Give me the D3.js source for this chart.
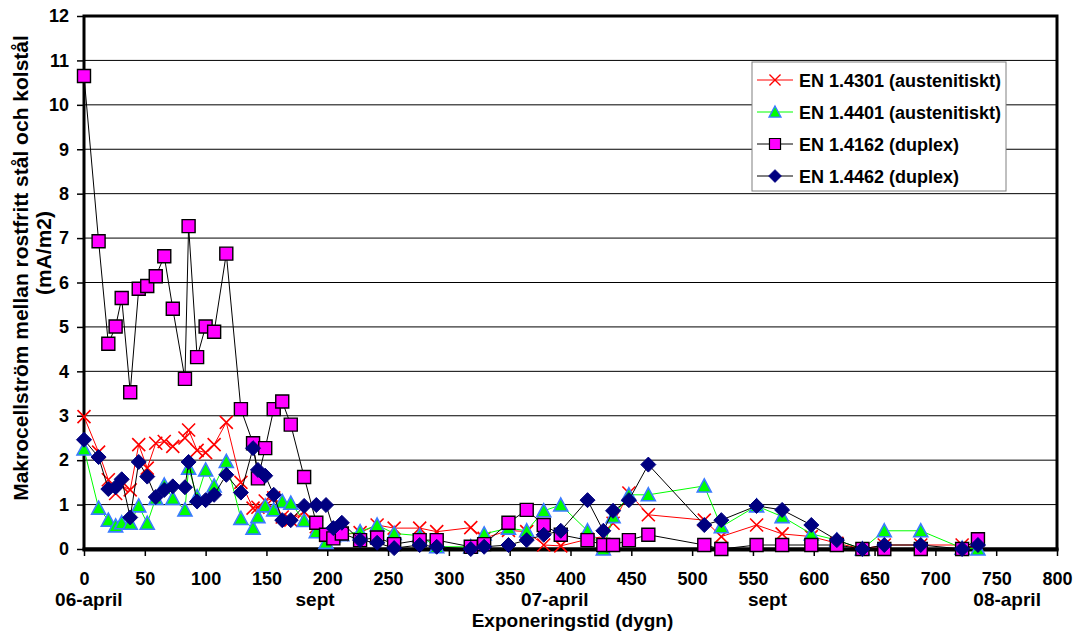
<!DOCTYPE html>
<html>
<head>
<meta charset="utf-8">
<script src="https://cdn.jsdelivr.net/npm/d3@7"></script>
<style>
  body { margin: 0; background: #fff; }
  svg text { font-family: "Liberation Sans", Arial, sans-serif; font-weight: bold; fill: #000; }
</style>
</head>
<body>
<svg id="chart" width="1079" height="632"></svg>
<script>
// Exposure time in days, shared by all four series.
const days = [0, 12, 20, 26, 31, 38, 45, 52, 59, 66, 73, 83, 86, 93, 100, 107, 117, 129, 139, 143,
  149, 156, 163, 170, 181, 191, 199, 205, 212, 227, 241, 255, 276, 290, 318, 329, 349, 364, 378, 392,
  414, 427, 435, 448, 464, 510, 524, 553, 574, 598, 619, 640, 658, 688, 722, 735];

// Macro cell current (mA/m2)
const en4301 = [2.98, 2.18, 1.56, 1.25, 1.42, 1.33, 2.35, 1.82, 2.38, 2.42, 2.31, 2.5, 2.68, 2.22, 2.17, 2.35, 2.85, 1.5, 0.92, 0.94,
  1.08, 1.15, 0.72, 0.65, 0.84, 0.5, 0.3, 0.35, 0.32, 0.37, 0.54, 0.47, 0.47, 0.39, 0.48, 0.24, 0.42, 0.39, 0.09, 0.07,
  0.22, 0.28, 0.58, 1.26, 0.77, 0.65, 0.28, 0.54, 0.34, 0.28, 0.13, 0, 0.09, 0.09, 0.09, 0.02];
const en4401 = [2.25, 0.92, 0.65, 0.52, 0.59, 0.58, 0.97, 0.58, 1.14, 1.44, 1.14, 0.88, 1.82, 1.18, 1.78, 1.42, 1.97, 0.69, 0.47, 0.73,
  0.97, 0.88, 1.07, 1.03, 0.64, 0.39, 0.15, 0.3, 0.32, 0.39, 0.54, 0.35, 0.3, 0.05, 0.05, 0.34, 0.47, 0.41, 0.86, 0.99,
  0.41, 0, 0.73, 1.22, 1.22, 1.42, 0.5, 0.97, 0.73, 0.34, 0.2, 0, 0.41, 0.41, 0.02, 0];
const en4162 = [10.65, 6.93, 4.62, 5.01, 5.65, 3.53, 5.86, 5.92, 6.14, 6.59, 5.41, 3.83, 7.27, 4.32, 5.01, 4.89, 6.65, 3.15, 2.38, 1.59,
  2.27, 3.15, 3.32, 2.8, 1.62, 0.59, 0.32, 0.24, 0.35, 0.2, 0.26, 0.11, 0.2, 0.2, 0.05, 0.11, 0.59, 0.88, 0.54, 0.32,
  0.2, 0.09, 0.09, 0.2, 0.32, 0.09, 0, 0.09, 0.09, 0.09, 0.09, 0, 0, 0, 0, 0.22];
const en4462 = [2.46, 2.07, 1.35, 1.39, 1.57, 0.71, 1.96, 1.63, 1.17, 1.33, 1.41, 1.39, 1.96, 1.07, 1.1, 1.22, 1.67, 1.27, 2.27, 1.78,
  1.65, 1.22, 0.65, 0.65, 0.97, 0.99, 0.99, 0.47, 0.59, 0.2, 0.14, 0.02, 0.09, 0.05, 0, 0.05, 0.09, 0.2, 0.32, 0.41,
  1.1, 0.41, 0.86, 1.1, 1.9, 0.54, 0.65, 0.97, 0.88, 0.54, 0.2, 0, 0.09, 0.09, 0, 0.09];

const seriesNames = ["EN 1.4301 (austenitiskt)", "EN 1.4401 (austenitiskt)", "EN 1.4162 (duplex)", "EN 1.4462 (duplex)"];

// month labels under the day axis
const dateLabels = ["06-april", "sept", "07-april", "sept", "08-april"];
const dateLabelDays = [4, 190, 387, 562, 759];

const xTicks = d3.range(0, 801, 50);
const yTicks = d3.range(0, 13, 1);

const styles = [
  { marker: "x", line: "#ff0000", fill: "none", stroke: "#ff0000", sw: 1.6 },
  { marker: "triangle", line: "#00ff00", fill: "#00ff00", stroke: "#3a7bff", sw: 1.6 },
  { marker: "square", line: "#000000", fill: "#ff00ff", stroke: "#000000", sw: 1.4 },
  { marker: "diamond", line: "#000000", fill: "#000080", stroke: "#000080", sw: 1 },
];
const seriesValues = [en4301, en4401, en4162, en4462];

function markerPath(type) {
  if (type === "square") return "M-6.5,-6.5H6.5V6.5H-6.5Z";
  if (type === "diamond") return "M0,-7.5L7.5,0L0,7.5L-7.5,0Z";
  if (type === "triangle") return "M0,-7L7,6L-7,6Z";
  return "M-6.5,-6.5L6.5,6.5M-6.5,6.5L6.5,-6.5";
}

const svg = d3.select("#chart");
const plotLeft = 84, plotRight = 1057, plotTop = 16, plotBottom = 549;

const x = d3.scaleLinear().domain([0, 800]).range([plotLeft, plotRight]);
const y = d3.scaleLinear().domain([0, 12]).range([plotBottom, plotTop]);

// gridlines
svg.append("g")
  .selectAll("line")
  .data(yTicks.filter((d) => d > 0 && d < 12))
  .join("line")
  .attr("x1", plotLeft)
  .attr("x2", plotRight)
  .attr("y1", (d) => y(d))
  .attr("y2", (d) => y(d))
  .attr("stroke", "#000")
  .attr("stroke-width", 1);

// axes
const yAxis = svg.append("g")
  .attr("transform", `translate(${plotLeft},0)`)
  .call(d3.axisLeft(y).tickValues(yTicks).tickSize(7).tickPadding(8).tickFormat(d3.format("d")));
const xAxis = svg.append("g")
  .attr("transform", `translate(0,${plotBottom})`)
  .call(d3.axisBottom(x).tickValues(xTicks).tickSize(7).tickPadding(16).tickFormat(d3.format("d")));

[yAxis, xAxis].forEach((g) => {
  g.select(".domain").remove();
  g.selectAll(".tick line").attr("stroke", "#000").attr("stroke-width", 1.5);
  g.selectAll(".tick text").attr("font-size", 18).attr("font-family", null);
});

// plot frame
svg.append("rect")
  .attr("x", plotLeft)
  .attr("y", plotTop)
  .attr("width", plotRight - plotLeft)
  .attr("height", plotBottom - plotTop)
  .attr("fill", "none")
  .attr("stroke", "#000")
  .attr("stroke-width", 3);
svg.append("line")
  .attr("x1", plotLeft - 1.5).attr("x2", plotRight + 1.5)
  .attr("y1", plotBottom + 0.5).attr("y2", plotBottom + 0.5)
  .attr("stroke", "#000").attr("stroke-width", 4);

// series
const line = d3.line().x((d) => x(d[0])).y((d) => y(d[1]));

seriesValues.forEach((values, i) => {
  const st = styles[i];
  const pts = days.map((d, j) => [d, values[j]]);
  const g = svg.append("g");
  g.append("path")
    .attr("d", line(pts))
    .attr("fill", "none")
    .attr("stroke", st.line)
    .attr("stroke-width", 1);
  g.selectAll("path.mk")
    .data(pts)
    .join("path")
    .attr("class", "mk")
    .attr("transform", (d) => `translate(${x(d[0])},${y(d[1])})`)
    .attr("d", markerPath(st.marker))
    .attr("fill", st.fill)
    .attr("stroke", st.stroke)
    .attr("stroke-width", st.sw);
});

// legend
const legend = svg.append("g").attr("transform", "translate(752,62)");
legend.append("rect")
  .attr("width", 254)
  .attr("height", 129)
  .attr("fill", "#fff")
  .attr("stroke", "#808080")
  .attr("stroke-width", 1);
seriesNames.forEach((name, i) => {
  const st = styles[i];
  const ly = 18 + i * 32;
  legend.append("line")
    .attr("x1", 5).attr("x2", 41)
    .attr("y1", ly).attr("y2", ly)
    .attr("stroke", st.line).attr("stroke-width", 1);
  legend.append("path")
    .attr("transform", `translate(23,${ly}) scale(0.85)`)
    .attr("d", markerPath(st.marker))
    .attr("fill", st.fill)
    .attr("stroke", st.stroke)
    .attr("stroke-width", st.sw);
  legend.append("text")
    .attr("x", 47)
    .attr("y", ly + 6.5)
    .attr("font-size", 18)
    .text(name);
});

// date labels and axis titles
svg.append("g")
  .selectAll("text")
  .data(dateLabels)
  .join("text")
  .attr("x", (d, i) => x(dateLabelDays[i]))
  .attr("y", 606)
  .attr("text-anchor", "middle")
  .attr("font-size", 19)
  .text((d) => d);

svg.append("text")
  .attr("x", (plotLeft + plotRight) / 2 + 2)
  .attr("y", 627)
  .attr("text-anchor", "middle")
  .attr("font-size", 19)
  .text("Exponeringstid (dygn)");

svg.append("text")
  .attr("transform", "translate(28,268) rotate(-90)")
  .attr("text-anchor", "middle")
  .attr("font-size", 21)
  .text("Makrocellström mellan rostfritt stål och kolstål");
svg.append("text")
  .attr("transform", "translate(51,253) rotate(-90)")
  .attr("text-anchor", "middle")
  .attr("font-size", 21)
  .text("(mA/m2)");
</script>
</body>
</html>
